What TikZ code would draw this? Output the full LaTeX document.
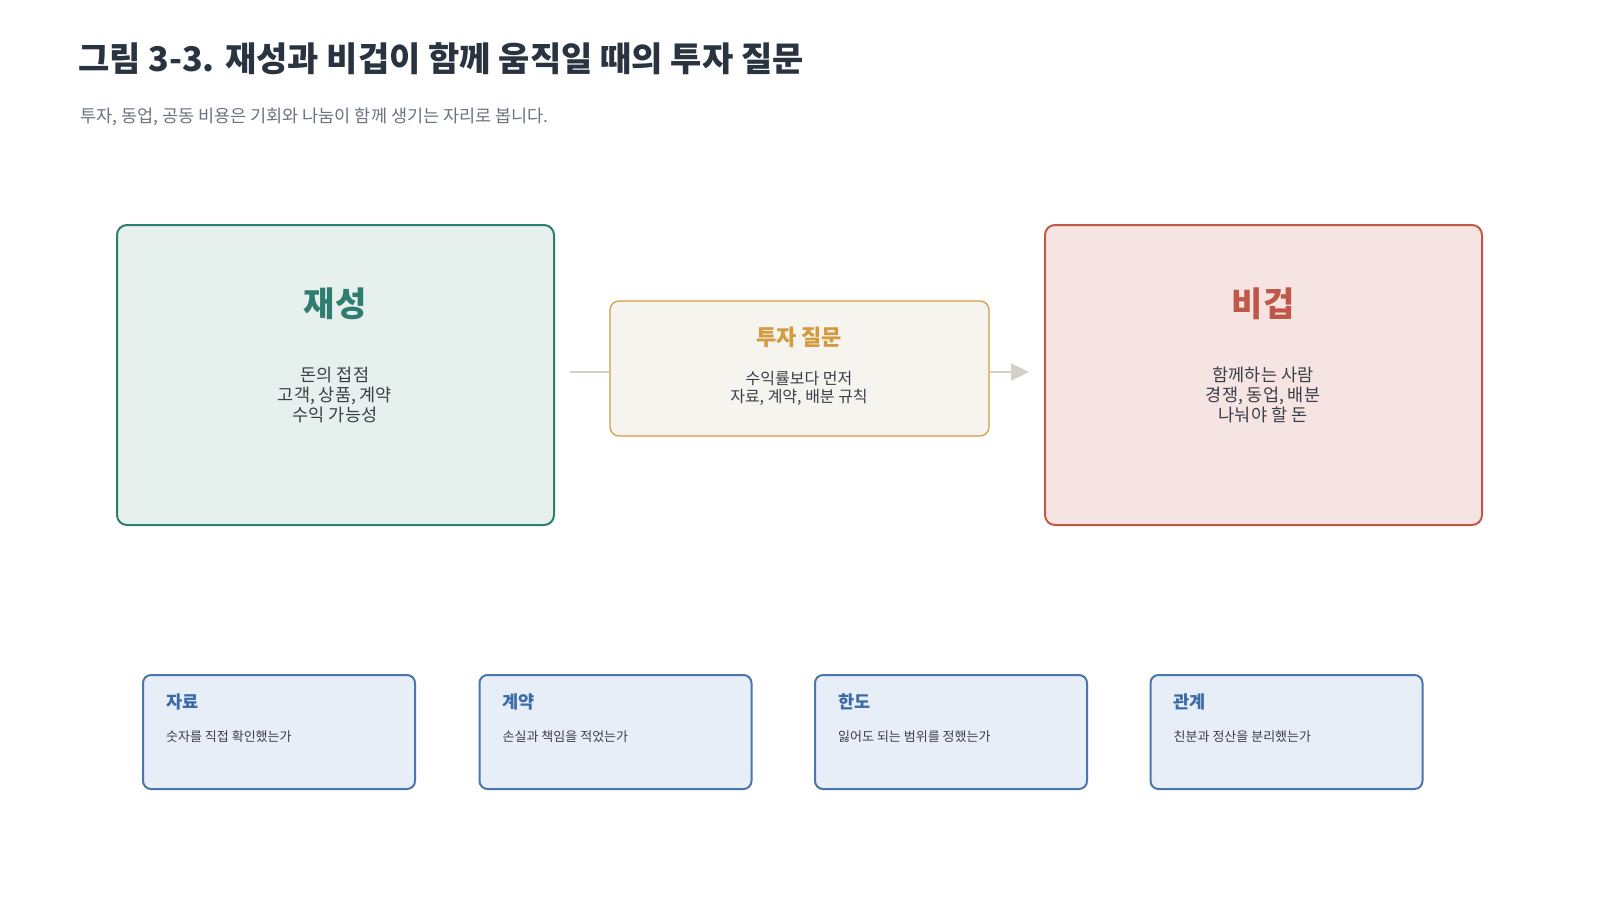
\documentclass[tikz,border=0pt]{standalone}
\usepackage{fontspec}
\setmainfont{Noto Sans CJK KR}
\usetikzlibrary{arrows.meta}
\definecolor{ink}{HTML}{2A3340}
\definecolor{subgray}{HTML}{6B7380}
\definecolor{bodyink}{HTML}{3A3F47}
\definecolor{grn}{HTML}{2E7D70}
\definecolor{grnfill}{HTML}{E6F0EC}
\definecolor{red}{HTML}{C0584A}
\definecolor{redfill}{HTML}{F5E4E2}
\definecolor{gold}{HTML}{D49A40}
\definecolor{goldfill}{HTML}{F6F4EF}
\definecolor{blu}{HTML}{4A76B0}
\definecolor{blufill}{HTML}{E8EEF7}
\definecolor{bluetxt}{HTML}{3A6AA8}
\definecolor{conn}{HTML}{D6D0C4}
\tikzset{
  bigbox/.style={draw, line width=2pt, rounded corners=10pt, minimum width=437pt, minimum height=300pt, inner sep=0pt},
  midbox/.style={draw=gold, fill=goldfill, line width=1.2pt, rounded corners=9pt, minimum width=379pt, minimum height=135pt, inner sep=0pt},
  smallbox/.style={draw=blu, fill=blufill, line width=2pt, rounded corners=8pt, minimum width=272pt, minimum height=114pt, inner sep=0pt},
  bigtitle/.style={font=\fontsize{34pt}{38pt}\selectfont\bfseries, inner sep=0pt},
  bigbody/.style={font=\fontsize{17.5pt}{20pt}\selectfont, text=bodyink, align=center, inner sep=0pt},
  smalltitle/.style={font=\fontsize{17.5pt}{20pt}\selectfont\bfseries, text=bluetxt, anchor=west, inner sep=0pt},
  smallbody/.style={font=\fontsize{13pt}{15pt}\selectfont, text=bodyink, anchor=west, inner sep=0pt},
  connector/.style={draw=conn, line width=2pt}
}
\begin{document}
\begin{tikzpicture}[x=1pt,y=-1pt]
\useasboundingbox[fill=white] (0,0) rectangle (1600,900);
% header
\node[anchor=west, inner sep=0pt, text=ink, font=\fontsize{34pt}{40pt}\selectfont\bfseries] (title) at (78,59) {그림 3-3. 재성과 비겁이 함께 움직일 때의 투자 질문};
\node[anchor=west, inner sep=0pt, text=subgray, font=\fontsize{17.5pt}{20pt}\selectfont] (subtitle) at (80,117) {투자, 동업, 공동 비용은 기회와 나눔이 함께 생기는 자리로 봅니다.};
% big boxes
\node[bigbox, draw=grn, fill=grnfill] (left) at (335.5,375) {};
\node[bigtitle, text=grn] (lefttitle) at (335,304) {재성};
\node[bigbody] (leftbody) at (335,395) {돈의 접점\\고객, 상품, 계약\\수익 가능성};
\node[bigbox, draw=red, fill=redfill] (right) at (1263.5,375) {};
\node[bigtitle, text=red] (righttitle) at (1263,304) {비겁};
\node[bigbody] (rightbody) at (1263,395) {함께하는 사람\\경쟁, 동업, 배분\\나눠야 할 돈};
% middle
\node[midbox] (mid) at (799.5,368.5) {};
\node[inner sep=0pt, text=gold, font=\fontsize{22pt}{26pt}\selectfont\bfseries] (midtitle) at (799,337) {투자 질문};
\node[inner sep=0pt, text=bodyink, align=center, font=\fontsize{16pt}{17.5pt}\selectfont] (midbody) at (799,388.5) {수익률보다 먼저\\자료, 계약, 배분 규칙};
\coordinate (cin) at (570,372);
\coordinate (cout) at (1029,372);
\draw[connector] (cin) -- (mid.west |- cin);
\draw[connector, -{Triangle[length=18pt,width=17pt]}] (mid.east |- cout) -- (cout);
% bottom boxes
\node[smallbox] (b1) at (279,732) {};
\node[smalltitle] (b1t) at ([xshift=24pt]b1.west |- 0,702) {자료};
\node[smallbody] (b1b) at ([xshift=24pt]b1.west |- 0,737) {숫자를 직접 확인했는가};
\node[smallbox] (b2) at (615.5,732) {};
\node[smalltitle] (b2t) at ([xshift=24pt]b2.west |- 0,702) {계약};
\node[smallbody] (b2b) at ([xshift=24pt]b2.west |- 0,737) {손실과 책임을 적었는가};
\node[smallbox] (b3) at (951,732) {};
\node[smalltitle] (b3t) at ([xshift=24pt]b3.west |- 0,702) {한도};
\node[smallbody] (b3b) at ([xshift=24pt]b3.west |- 0,737) {잃어도 되는 범위를 정했는가};
\node[smallbox] (b4) at (1286.5,732) {};
\node[smalltitle] (b4t) at ([xshift=24pt]b4.west |- 0,702) {관계};
\node[smallbody] (b4b) at ([xshift=24pt]b4.west |- 0,737) {친분과 정산을 분리했는가};
\end{tikzpicture}
\end{document}
